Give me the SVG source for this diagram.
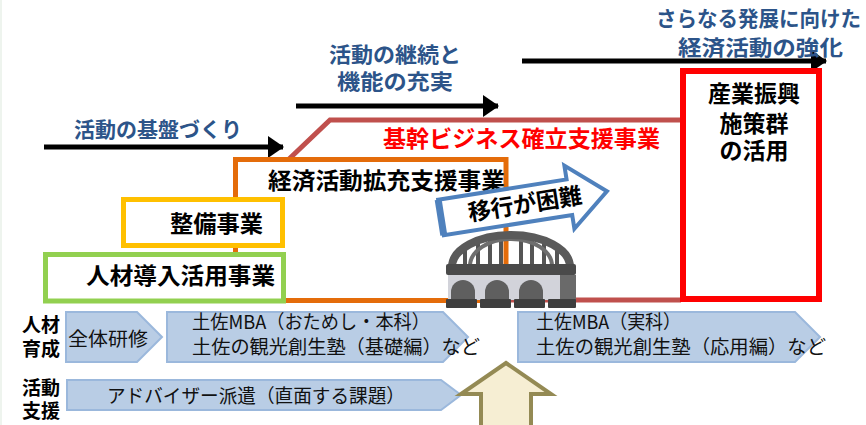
<svg xmlns="http://www.w3.org/2000/svg" width="866" height="425" viewBox="0 0 866 425">
  <style>
    .jp { font-family: "Noto Sans CJK JP", "Noto Sans", sans-serif; }
    .phase { font-size: 21px; font-weight: 700; fill: #2c5489; }
    .box-title { font-size: 23px; font-weight: 700; fill: #000; }
    .row-label { font-size: 19px; font-weight: 700; fill: #000; }
    .step-text { font-size: 19px; fill: #111; }
    .timeline { stroke: #000; stroke-width: 5; fill: none; }
    .step { fill: #b9cde5; stroke: #9bb8dc; stroke-width: 2; }
  </style>
  <defs>
    <marker id="arrowhead" viewBox="0 0 16 22" refX="15" refY="11" markerWidth="16" markerHeight="22" markerUnits="userSpaceOnUse" orient="auto">
      <path d="M0,0 L16,11 L0,22 Z" fill="#000"/>
    </marker>
  </defs>

  <rect width="866" height="425" fill="#fff"/>
  <rect x="0" y="0" width="2" height="425" fill="#eef4ee"/>

  <!-- phase timeline arrows -->
  <g id="connectors">
    <line class="timeline" x1="44" y1="147" x2="283" y2="147" marker-end="url(#arrowhead)"/>
    <line class="timeline" x1="296" y1="106" x2="498" y2="106" marker-end="url(#arrowhead)"/>
    <line class="timeline" x1="522" y1="61" x2="826" y2="61" marker-end="url(#arrowhead)"/>
  </g>

  <g id="phase-1" class="jp">
    <text class="phase" x="74" y="136.5" textLength="168" lengthAdjust="spacingAndGlyphs">活動の基盤づくり</text>
  </g>
  <g id="phase-2" class="jp">
    <text class="phase" x="329" y="61.5" textLength="132" lengthAdjust="spacingAndGlyphs">活動の継続と</text>
    <text class="phase" x="337" y="88.5" textLength="116" lengthAdjust="spacingAndGlyphs">機能の充実</text>
  </g>
  <g id="phase-3" class="jp">
    <text class="phase" x="656" y="26" textLength="205" lengthAdjust="spacingAndGlyphs">さらなる発展に向けた</text>
    <text class="phase" x="678" y="55" textLength="165" lengthAdjust="spacingAndGlyphs">経済活動の強化</text>
  </g>

  <!-- core business support (chamfered outline behind the expansion box) -->
  <g id="core-business" class="jp">
    <path d="M240,300 L240,160 L288,160 L330,120 L681,120 L681,300 Z" fill="#fff" stroke="none"/>
    <path d="M288,160 L330,120 L681,120" fill="none" stroke="#c0504d" stroke-width="5"/>
    <line x1="500" y1="300" x2="681" y2="300" stroke="#c0504d" stroke-width="5"/>
    <text class="box-title" x="383" y="146.5" style="fill:#ff0000" textLength="277" lengthAdjust="spacingAndGlyphs">基幹ビジネス確立支援事業</text>
  </g>

  <g id="expansion-business" class="jp">
    <rect x="235.5" y="159.5" width="270.5" height="141" fill="#fff" stroke="#e46c0a" stroke-width="5"/>
    <text class="box-title" x="268" y="188.5" textLength="237" lengthAdjust="spacingAndGlyphs">経済活動拡充支援事業</text>
  </g>

  <g id="maintenance-business" class="jp">
    <rect x="123.5" y="199.5" width="159" height="46" fill="#fff" stroke="#ffc000" stroke-width="5"/>
    <text class="box-title" x="170" y="231.5" textLength="93" lengthAdjust="spacingAndGlyphs">整備事業</text>
  </g>

  <g id="talent-business" class="jp">
    <rect x="45.5" y="254.5" width="238" height="46.5" fill="#fff" stroke="#92d050" stroke-width="5"/>
    <text class="box-title" x="86" y="283.5" textLength="189" lengthAdjust="spacingAndGlyphs">人材導入活用事業</text>
  </g>

  <g id="industry-policy" class="jp">
    <rect x="683" y="71" width="136" height="228" fill="#fff" stroke="#ff0000" stroke-width="6"/>
    <text class="box-title" x="754" y="101.5" text-anchor="middle" font-size="22">産業振興</text>
    <text class="box-title" x="754" y="131.5" text-anchor="middle" font-size="22">施策群</text>
    <text class="box-title" x="754" y="159" text-anchor="middle" font-size="22">の活用</text>
  </g>

  <!-- bridge illustration -->
  <g id="bridge">
    <g stroke="#555" stroke-width="4">
      <line x1="465" y1="246" x2="465" y2="266"/>
      <line x1="478" y1="240" x2="478" y2="266"/>
      <line x1="490" y1="237" x2="490" y2="266"/>
      <line x1="501" y1="236" x2="501" y2="266"/>
      <line x1="521" y1="236" x2="521" y2="266"/>
      <line x1="532" y1="237" x2="532" y2="266"/>
      <line x1="544" y1="240" x2="544" y2="266"/>
      <line x1="557" y1="246" x2="557" y2="266"/>
    </g>
    <path d="M470,266 A41,27 0 0 1 552,266" fill="none" stroke="#6e6e6e" stroke-width="4"/>
    <path d="M452,267 A59,32 0 0 1 570,267" fill="none" stroke="#5a5a5a" stroke-width="8"/>
    <rect x="446" y="264" width="130" height="11" rx="2" fill="#4a4a4a"/>
    <rect x="448" y="275" width="113" height="25" fill="#d2d3da"/>
    <rect x="560" y="275" width="16" height="25" fill="#6a6a6a"/>
    <g fill="#5f5f5f">
      <path d="M451,300 L451,292 A12,12 0 0 1 475,292 L475,300 Z"/>
      <path d="M485,300 L485,292 A12,12 0 0 1 509,292 L509,300 Z"/>
      <path d="M519,300 L519,292 A12,12 0 0 1 543,292 L543,300 Z"/>
    </g>
    <g fill="#3f3f3f">
      <rect x="446" y="299" width="31" height="9" rx="1"/>
      <rect x="480" y="299" width="31" height="9" rx="1"/>
      <rect x="514" y="299" width="31" height="9" rx="1"/>
      <rect x="548" y="299" width="28" height="9" rx="1"/>
    </g>
  </g>

  <!-- transition arrow -->
  <g id="transition" class="jp" transform="translate(520,205) rotate(-9)">
    <path d="M-80,-18 L50,-18 L50,-32 L88,0 L50,32 L50,18 L-80,18 Z" fill="#fff" stroke="#4f81bd" stroke-width="4" stroke-linejoin="miter"/>
    <line x1="-80" y1="-18" x2="-80" y2="18" stroke="#4f81bd" stroke-width="7"/>
    <text x="5" y="8" text-anchor="middle" font-size="23" font-weight="700" fill="#000">移行が困難</text>
  </g>

  <!-- row labels -->
  <g id="row-training" class="jp">
    <text class="row-label" x="22" y="332">人材</text>
    <text class="row-label" x="22" y="355.5">育成</text>
  </g>
  <g id="row-support" class="jp">
    <text class="row-label" x="22" y="394.5">活動</text>
    <text class="row-label" x="22" y="417.5">支援</text>
  </g>

  <g id="step-common" class="jp">
    <path class="step" d="M66,312 L137,312 L162,337 L137,362 L66,362 Z"/>
    <text class="step-text" x="68" y="345.5" textLength="80" lengthAdjust="spacingAndGlyphs">全体研修</text>
  </g>

  <g id="step-basic" class="jp">
    <path class="step" d="M167,312 L443,312 L468,337 L443,362 L167,362 Z"/>
    <text class="step-text" x="192" y="328.5" textLength="238" lengthAdjust="spacingAndGlyphs">土佐MBA（おためし・本科）</text>
    <text class="step-text" x="192" y="353.5" textLength="288" lengthAdjust="spacingAndGlyphs">土佐の観光創生塾（基礎編）など</text>
  </g>

  <g id="step-advanced" class="jp">
    <path class="step" d="M518,312 L795,312 L820,337 L795,362 L518,362 Z"/>
    <text class="step-text" x="536" y="328.5" textLength="145" lengthAdjust="spacingAndGlyphs">土佐MBA（実科）</text>
    <text class="step-text" x="536" y="353.5" textLength="290" lengthAdjust="spacingAndGlyphs">土佐の観光創生塾（応用編）など</text>
  </g>

  <g id="step-advisor" class="jp">
    <path class="step" d="M67,380 L441,380 L461,395 L441,410 L67,410 Z"/>
    <text class="step-text" x="107" y="402.5" textLength="298" lengthAdjust="spacingAndGlyphs">アドバイザー派遣（直面する課題）</text>
  </g>

  <!-- upward support arrow -->
  <g id="lift-arrow">
    <path d="M506,363 L551,394 L531,394 L531,432 L481,432 L481,394 L461,394 Z" fill="#f6eed3" stroke="#948a54" stroke-width="4" stroke-linejoin="miter"/>
  </g>
</svg>
